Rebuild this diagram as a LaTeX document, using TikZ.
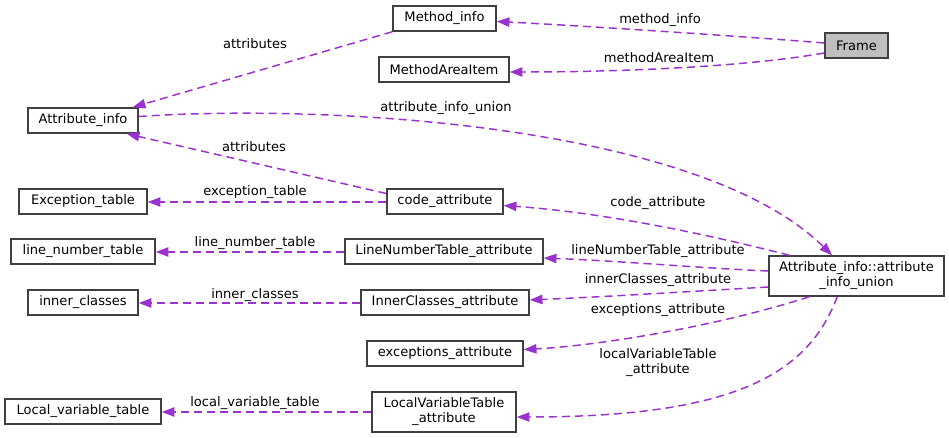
\documentclass[tikz,border=0pt]{standalone}
\usepackage{fontspec}
\setmainfont{DejaVu Sans}
\usetikzlibrary{arrows.meta,calc}
\definecolor{edgec}{HTML}{9A32CD}
\definecolor{boxc}{HTML}{404040}
\definecolor{framec}{HTML}{BFBFBF}
\begin{document}
\begin{tikzpicture}[x=0.75pt,y=-0.75pt,
  box/.style={draw=boxc, line width=1.15pt, fill=white, inner sep=0pt,
    minimum height=18.75pt, align=center,
    font=\fontsize{9.8pt}{11.25pt}\selectfont},
  bw/.style={minimum width=#1*0.75pt},
  twoline/.style={minimum height=30pt},
  lbl/.style={inner sep=0pt, align=center,
    font=\fontsize{9.8pt}{11.25pt}\selectfont},
  edge/.style={draw=edgec, line width=1.1pt, dash pattern=on 6pt off 3.75pt,
    -{Triangle[length=9.5pt,width=7pt]}}
]
\useasboundingbox (0,0) rectangle (949,438);

% nodes
\node[box,bw=103] (mi) at (444.5,18.5) {Method\_info};
\node[box,bw=130] (mai) at (444,69.5) {MethodAreaItem};
\node[box,bw=63,fill=framec] (frame) at (856.5,45.5) {Frame};
\node[box,bw=110] (ai) at (83,120.5) {Attribute\_info};
\node[box,bw=128] (et) at (83,201.5) {Exception\_table};
\node[box,bw=116] (ca) at (445,201.5) {code\_attribute};
\node[box,bw=144] (lnt) at (83,251.5) {line\_number\_table};
\node[box,bw=198] (lnta) at (444,251.5) {LineNumberTable\_attribute};
\node[box,bw=110] (ic) at (83,302.5) {inner\_classes};
\node[box,bw=168] (ica) at (445,302.5) {InnerClasses\_attribute};
\node[box,bw=156] (ea) at (445,353.5) {exceptions\_attribute};
\node[box,bw=156] (lvt) at (83,411.5) {Local\_variable\_table};
\node[box,bw=144,twoline] (lvta) at (444,412) {LocalVariableTable\\\_attribute};
\node[box,bw=175,twoline] (aiu) at (856.5,276) {Attribute\_info::attribute\\\_info\_union};

% edges
\draw[edge] ($(frame.west)+(0,-2.5)$) .. controls +(-60,-5) and +(100,5) .. ($(mi.east)+(0,3)$);
\draw[edge] ($(frame.west)+(0,7.5)$) .. controls +(-80,14) and +(110,0) .. ($(mai.east)+(0,2.5)$);
\draw[edge] (mi.south west) -- ($(ai.north east)+(-6,0)$);
\draw[edge] ($(ca.west)+(0,-8)$) -- ($(ai.south east)+(-12,0)$);
\draw[edge] ($(ca.west)+(0,0.5)$) coordinate (caw) -- (caw -| et.east);
\draw[edge] ($(ai.east)+(0,-4)$) .. controls +(192,-13) and +(-132,-130) .. ($(aiu.north)+(-24.5,0)$);
\draw[edge] ($(aiu.north west)+(21,0)$) .. controls +(-90,-23) and +(97,7) .. ($(ca.east)+(0,4)$);
\draw[edge] ($(aiu.west)+(0,-5)$) .. controls +(-69,-3) and +(77,3) .. ($(lnta.east)+(0,6.5)$);
\draw[edge] ($(aiu.west)+(0,11)$) .. controls +(-69,4) and +(71,-3) .. ($(ica.east)+(0,-2.5)$);
\draw[edge] ($(aiu.south west)+(41,0)$) .. controls +(-90,29) and +(77,-4) .. ($(ea.east)+(0,-4)$);
\draw[edge] ($(aiu.south west)+(69,0)$) .. controls +(-28,74) and +(224,0) .. ($(lvta.east)+(0,5)$);
\draw[edge] ($(lnta.west)+(0,0.5)$) coordinate (lntaw) -- (lntaw -| lnt.east);
\draw[edge] ($(ica.west)+(0,0.5)$) coordinate (icaw) -- (icaw -| ic.east);
\draw[edge] (lvta.west) -- (lvta.west -| lvt.east);

% labels
\node[lbl] (l1) at (660,20) {method\_info};
\node[lbl] (l2) at (659,58) {methodAreaItem};
\node[lbl] (l3) at (255,44) {attributes};
\node[lbl] (l4) at (446,108) {attribute\_info\_union};
\node[lbl] (l5) at (254,147) {attributes};
\node[lbl] (l6) at (255,192) {exception\_table};
\node[lbl] (l7) at (658,203) {code\_attribute};
\node[lbl] (l8) at (658,251) {lineNumberTable\_attribute};
\node[lbl] (l9) at (658,280) {innerClasses\_attribute};
\node[lbl] (l10) at (658,310) {exceptions\_attribute};
\node[lbl] (l11) at (658,363) {localVariableTable\\\_attribute};
\node[lbl] (l12) at (255,243) {line\_number\_table};
\node[lbl] (l13) at (255,295) {inner\_classes};
\node[lbl] (l14) at (255,403) {local\_variable\_table};
\end{tikzpicture}
\end{document}
